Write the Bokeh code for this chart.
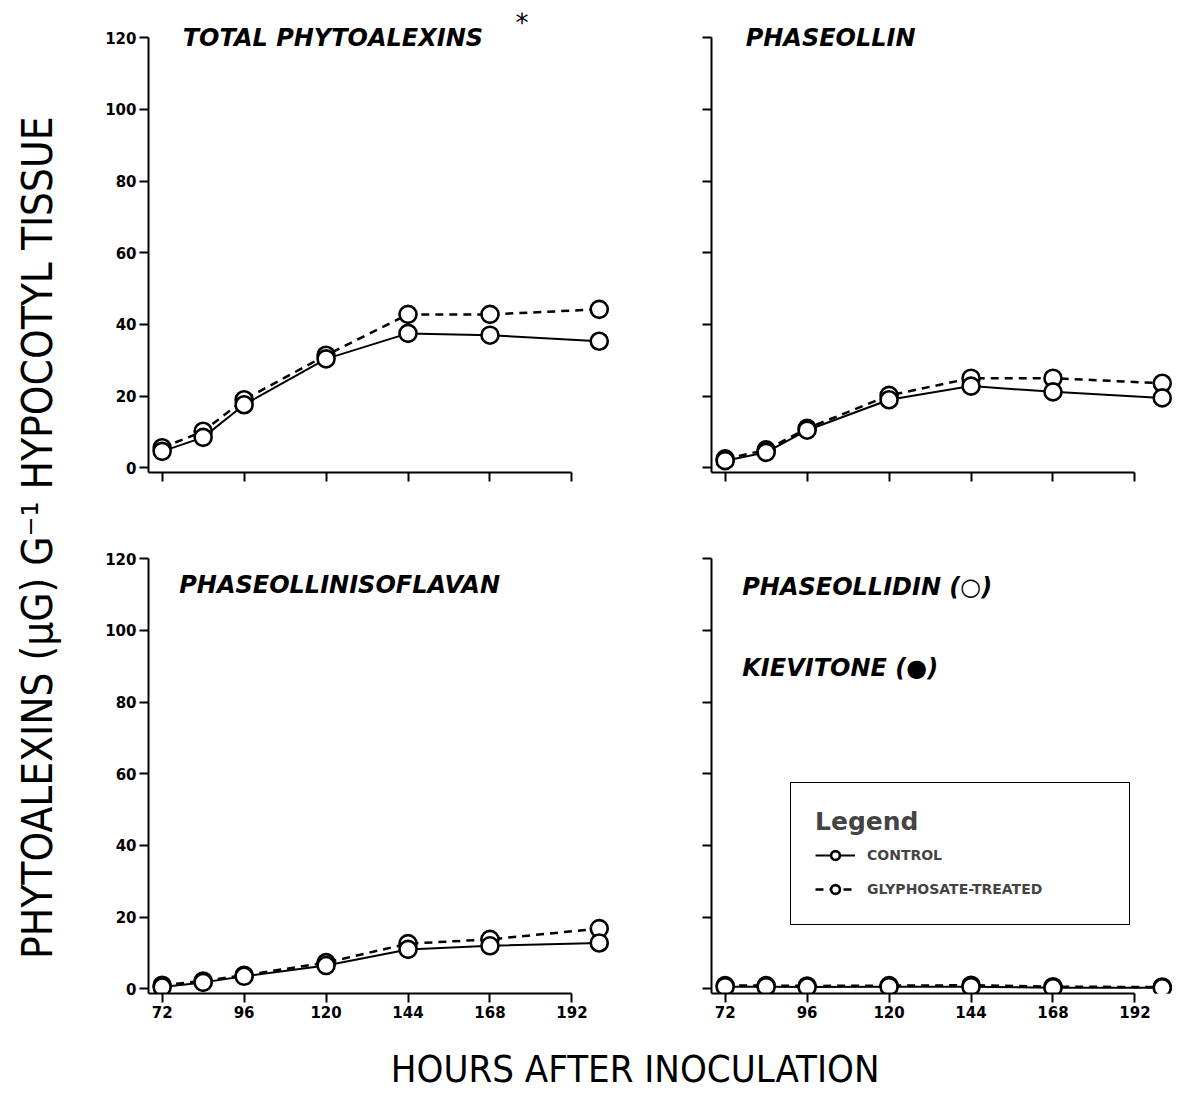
from math import pi
from bokeh.plotting import figure
from bokeh.layouts import row, column
from bokeh.models import Range1d, FixedTicker, Legend, LegendItem
from bokeh.embed import file_html
from bokeh.resources import INLINE
from bokeh.core.properties import value

# ---------------- data ----------------
hours = [72, 84, 96, 120, 144, 168, 200]

total_control = [4.6, 8.5, 17.6, 30.4, 37.5, 37.0, 35.3]
total_treated = [5.6, 10.2, 19.0, 31.4, 42.8, 42.8, 44.2]

phaseollin_control = [2.0, 4.3, 10.5, 19.0, 22.8, 21.2, 19.5]
phaseollin_treated = [2.5, 5.0, 11.0, 20.2, 25.0, 25.0, 23.6]

isoflavan_control = [0.5, 1.8, 3.5, 6.5, 11.0, 12.0, 12.8]
isoflavan_treated = [1.0, 2.2, 3.8, 7.3, 12.6, 13.8, 16.8]

phaseollidin_control = [0.6, 0.6, 0.5, 0.6, 0.6, 0.3, 0.3]
phaseollidin_treated = [0.9, 0.9, 0.8, 0.9, 1.0, 0.6, 0.5]

x_ticks = [72, 96, 120, 144, 168, 192]
y_ticks = [0, 20, 40, 60, 80, 100, 120]

series_labels = ["CONTROL", "GLYPHOSATE-TREATED"]
y_title = "PHYTOALEXINS (\u03bcG) G\u207b\u00b9 HYPOCOTYL TISSUE"
x_title = "HOURS AFTER INOCULATION"

# ---------------- styling ----------------
TICK_FONT = "DejaVu Sans"
TITLE_FONT = value("DejaVu Sans")
LABEL_FONT = value("DejaVu Sans Condensed")


def make_panel(width, height, bl, bt, br, bb, xlabels, ylabels):
    p = figure(width=width, height=height, output_backend="svg", toolbar_location=None,
               x_range=Range1d(68, 203), y_range=Range1d(-1.3, 127),
               min_border_left=bl, min_border_top=bt, min_border_right=br,
               min_border_bottom=bb)
    p.grid.visible = False
    p.outline_line_color = None
    for ax in (p.xaxis[0], p.yaxis[0]):
        ax.axis_line_width = 2
        ax.axis_line_color = "black"
        ax.major_tick_line_width = 2
        ax.major_tick_line_color = "black"
        ax.major_tick_out = 9
        ax.major_tick_in = 0
        ax.minor_tick_line_color = None
        ax.major_label_text_font = TICK_FONT
        ax.major_label_text_font_style = "bold"
        ax.major_label_text_font_size = "15px"
        ax.major_label_text_color = "black"
    p.xaxis[0].ticker = FixedTicker(ticks=x_ticks)
    p.yaxis[0].ticker = FixedTicker(ticks=y_ticks)
    p.xaxis[0].bounds = (68, 192)
    p.yaxis[0].bounds = (-1.3, 120)
    p.xaxis[0].major_label_standoff = 3
    p.yaxis[0].major_label_standoff = 3
    if not xlabels:
        p.xaxis[0].major_label_overrides = {t: "" for t in x_ticks}
    if not ylabels:
        p.yaxis[0].major_label_overrides = {t: "" for t in y_ticks}
    return p


def add_series(p, control, treated):
    lt = p.line(hours, treated, line_color="black", line_width=2.5, line_dash="8 6")
    lc = p.line(hours, control, line_color="black", line_width=2)
    st = p.scatter(hours, treated, marker="circle", size=17, fill_color="white",
                   line_color="black", line_width=2.6)
    sc = p.scatter(hours, control, marker="circle", size=17, fill_color="white",
                   line_color="black", line_width=2.6)
    return lc, sc, lt, st


def panel_title(p, x, y, txt, size="24px"):
    p.text(x=[x], y=[y], text=[txt], text_font=TITLE_FONT, text_font_style="bold italic",
           text_font_size=size, text_baseline="middle", text_align="left",
           text_color="black")


LEFT_W, RIGHT_W = 581, 524
TOP_H, BOT_H, XLAB_H = 515, 509, 70

p1 = make_panel(LEFT_W, TOP_H, 78, 12, 42, 43, False, True)
add_series(p1, total_control, total_treated)
panel_title(p1, 78, 120, "TOTAL PHYTOALEXINS")
p1.text(x=[175.5], y=[124.2], text=["*"], text_font=TITLE_FONT, text_font_size="26px",
        text_baseline="middle", text_align="left")

p2 = make_panel(RIGHT_W, TOP_H, 60, 12, 3, 43, False, False)
add_series(p2, phaseollin_control, phaseollin_treated)
panel_title(p2, 78, 120, "PHASEOLLIN")

p3 = make_panel(LEFT_W, BOT_H, 78, 18, 42, 31, True, True)
add_series(p3, isoflavan_control, isoflavan_treated)
panel_title(p3, 77, 112.5, "PHASEOLLINISOFLAVAN")

p4 = make_panel(RIGHT_W, BOT_H, 60, 18, 3, 31, True, False)
lc, sc, lt, st = add_series(p4, phaseollidin_control, phaseollidin_treated)
panel_title(p4, 77, 112, "PHASEOLLIDIN (\u25cb)")
panel_title(p4, 77, 89.5, "KIEVITONE (\u25cf)")

legend = Legend(items=[LegendItem(label=series_labels[0], renderers=[lc, sc]),
                       LegendItem(label=series_labels[1], renderers=[lt, st])],
                location=(79, 68), title="Legend",
                title_text_font="DejaVu Sans", title_text_font_size="25px",
                title_text_font_style="bold", title_standoff=8,
                label_text_font="DejaVu Sans", label_text_font_size="14px",
                label_text_font_style="bold",
                border_line_color="black", border_line_width=1.5, border_line_alpha=1,
                background_fill_color="white", background_fill_alpha=1,
                padding=24, spacing=12, glyph_width=40, glyph_height=22,
                label_width=238, label_standoff=12, margin=0)
p4.add_layout(legend)

# shared axis titles
ylab = figure(width=70, height=TOP_H + BOT_H + XLAB_H, output_backend="svg",
              toolbar_location=None, x_range=Range1d(0, 1), y_range=Range1d(0, 1),
              x_axis_type=None, y_axis_type=None, min_border=0)
ylab.grid.visible = False
ylab.outline_line_color = None
ylab.text(x=[0.53], y=[0.509], text=[y_title], angle=pi / 2, text_font=LABEL_FONT,
          text_font_size="42px", text_align="center", text_baseline="middle",
          text_color="black")

xlab = figure(width=LEFT_W + RIGHT_W, height=XLAB_H, output_backend="svg",
              toolbar_location=None, x_range=Range1d(0, 1), y_range=Range1d(0, 1),
              x_axis_type=None, y_axis_type=None, min_border=0)
xlab.grid.visible = False
xlab.outline_line_color = None
xlab.text(x=[0.511], y=[0.36], text=[x_title], text_font=LABEL_FONT,
          text_font_size="38px", text_align="center", text_baseline="middle",
          text_color="black")

layout = row(ylab, column(row(p1, p2), row(p3, p4), xlab))

open("out.html", "w").write(file_html(layout, INLINE))
